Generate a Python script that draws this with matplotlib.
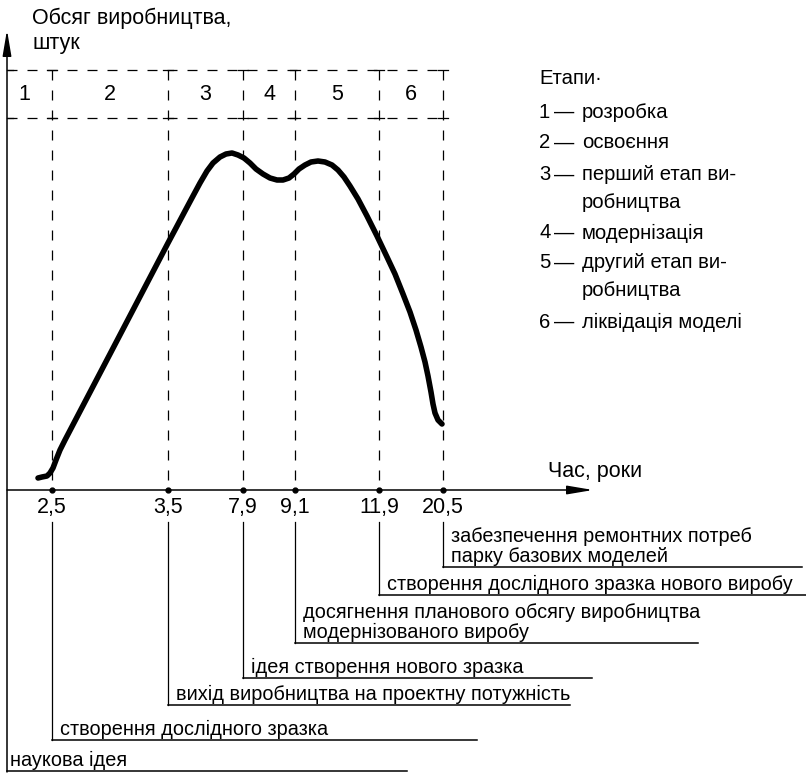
import matplotlib.pyplot as plt

plt.rcParams['font.family'] = ['Liberation Sans', 'DejaVu Sans']

# milestones on the time axis (label, horizontal position in schematic units)
milestone_labels = ["2,5", "3,5", "7,9", "9,1", "11,9", "20,5"]
milestone_x = [52, 168, 243, 295, 379, 443]

stage_labels = ["1", "2", "3", "4", "5", "6"]

legend_title = "Етапи·"
legend_lines = [
    ("1", "розробка"),
    ("2", "освоєння"),
    ("3", "перший етап ви-"),
    ("", "робництва"),
    ("4", "модернізація"),
    ("5", "другий етап ви-"),
    ("", "робництва"),
    ("6", "ліквідація моделі"),
]

# production volume curve, schematic units (y grows downwards)
curve_x = [38, 42, 47, 50, 53, 56, 60, 65, 110, 168, 176, 185, 193, 200, 207,
           213, 220, 226, 232, 238, 244, 250, 256, 263, 270, 277, 283, 289,
           294, 299, 305, 311, 318, 325, 332, 338, 344, 350, 358, 367, 377,
           387, 395, 403, 410, 416, 421, 425, 428, 431, 433, 435, 438, 442]
curve_y = [478, 477, 476, 473, 468, 460, 450, 440, 354, 243, 228, 211, 196,
           183, 171, 163, 157, 154, 153, 155, 158, 163, 169, 174, 178, 180,
           180, 178, 174, 169, 165, 162, 161, 162, 165, 170, 177, 186, 199,
           216, 236, 257, 274, 294, 312, 330, 347, 362, 376, 392, 404, 413,
           420, 424]

# events attached to milestones: (milestone index or None for the y axis, text lines)
events = [
    (5, ["забезпечення ремонтних потреб", "парку базових моделей"]),
    (4, ["створення дослідного зразка нового виробу"]),
    (3, ["досягнення планового обсягу виробництва", "модернізованого виробу"]),
    (2, ["ідея створення нового зразка"]),
    (1, ["вихід виробництва на проектну потужність"]),
    (0, ["створення дослідного зразка"]),
    (None, ["наукова ідея"]),
]

fig = plt.figure(figsize=(8.06, 7.73), dpi=100)
ax = fig.add_axes([0, 0, 1, 1])
ax.set_xlim(0, 806)
ax.set_ylim(773, 0)
ax.axis('off')

x0 = 7        # vertical axis
y_axis = 490  # horizontal axis
box_top, box_bot = 70, 118
fs_big = 15.5
fs_leg = 14.6
fs_ev = 14.3

# axes with arrows
arrow = dict(arrowstyle='-|>,head_length=1.3,head_width=0.22', color='k',
             lw=1.1, shrinkA=0, shrinkB=0, mutation_scale=12)
ax.annotate('', xy=(x0, 30), xytext=(x0, 772), arrowprops=arrow)
ax.annotate('', xy=(593, y_axis), xytext=(x0, y_axis), arrowprops=arrow)

ax.text(32, 18, "Обсяг виробництва,", fontsize=fs_big, va='center', ha='left')
ax.text(32, 43, "штук", fontsize=fs_big, va='center', ha='left')
ax.text(548, 471, "Час, роки", fontsize=fs_big, va='center', ha='left')

# stage strip and dashed dividers
dash = dict(color='k', lw=0.9, linestyle=(0, (8, 8)))
right = milestone_x[-1]
ax.plot([x0, right], [box_top, box_top], **dash)
ax.plot([x0, right], [box_bot, box_bot], **dash)
for x in milestone_x:
    ax.plot([x, x], [box_top, y_axis], **dash)
    ax.plot([x - 5, x + 5], [box_top, box_top], color='k', lw=0.9)
    ax.plot([x - 5, x + 5], [box_bot, box_bot], color='k', lw=0.9)
ax.plot([x0, x0 + 6], [box_top, box_top], color='k', lw=0.9)
ax.plot([x0, x0 + 6], [box_bot, box_bot], color='k', lw=0.9)

edges = [x0] + milestone_x
for i, s in enumerate(stage_labels):
    cx = (edges[i] + edges[i + 1]) / 2
    if i == 0:
        cx -= 5
    ax.text(cx, (box_top + box_bot) / 2, s, fontsize=fs_big, ha='center', va='center')

# milestone dots and labels
ax.plot(milestone_x, [y_axis] * len(milestone_x), 'o', color='k', ms=3.5)
for x, lab in zip(milestone_x, milestone_labels):
    ax.text(x, 508, lab, fontsize=fs_big, ha='center', va='center')

# the curve
ax.plot(curve_x, curve_y, color='k', lw=4, solid_capstyle='round',
        solid_joinstyle='round')

# event brackets below the axis
bracket_bottom = [567, 595, 643, 678, 705, 740, 771]
bracket_end = [802, 806, 698, 592, 570, 477, 407]
for (idx, lines), yb, xe in zip(events, bracket_bottom, bracket_end):
    xv = x0 if idx is None else milestone_x[idx]
    if idx is not None:
        ax.plot([xv, xv], [522, yb], color='k', lw=0.9)
    ax.plot([xv, xe], [yb, yb], color='k', lw=1.1)
    n = len(lines)
    for k, line in enumerate(lines):
        ty = yb - 11 - 20 * (n - 1 - k)
        ax.text(xv + 8 if idx is not None else xv + 3, ty, line, fontsize=fs_ev,
                ha='left', va='center')

# legend of stages
ax.text(539, 78, legend_title, fontsize=fs_leg, ha='left', va='center')
leg_y = [112, 143, 175, 202, 233, 263, 290, 322]
for (num, txt), y in zip(legend_lines, leg_y):
    if num:
        ax.text(539, y, num, fontsize=fs_leg, ha='left', va='center')
        ax.text(564, y, "—", fontsize=fs_leg, ha='center', va='center')
    ax.text(582, y, txt, fontsize=fs_leg, ha='left', va='center')

fig.savefig('out.png', dpi=100)
